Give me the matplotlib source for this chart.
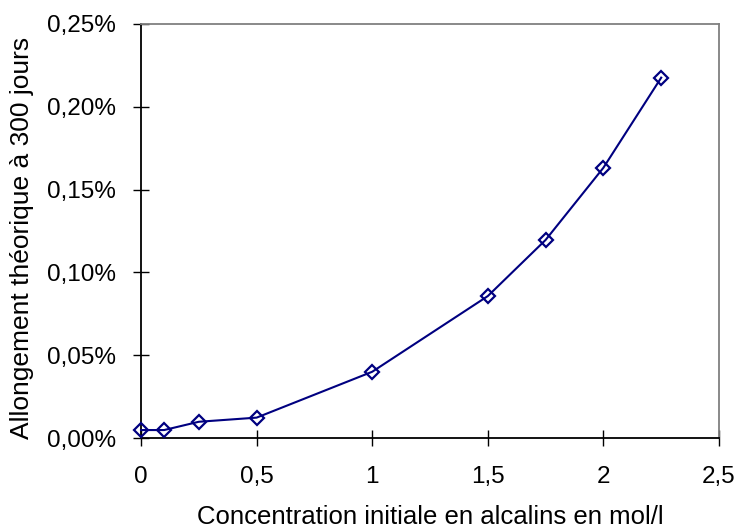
import matplotlib
matplotlib.use("Agg")
import matplotlib.pyplot as plt
from matplotlib.ticker import FuncFormatter, MultipleLocator

plt.rcParams['font.family'] = ['Liberation Sans', 'DejaVu Sans']

concentration = [0, 0.1, 0.25, 0.5, 1.0, 1.5, 1.75, 2.0, 2.25]
allongement_pct = [0.0048, 0.0048, 0.0098, 0.0123, 0.040, 0.0857, 0.1196, 0.1632, 0.2176]

x_label = "Concentration initiale en alcalins en mol/l"
y_label = "Allongement théorique à 300 jours"

W, H = 739, 531
fig = plt.figure(figsize=(W/100, H/100), dpi=100)
ax = fig.add_axes([141/W, 93/H, 578/W, 414/H])

ax.plot(concentration, allongement_pct, color='#000080', linewidth=1.5,
        marker='D', markersize=7, markerfacecolor='none', markeredgecolor='#000080',
        markeredgewidth=1.6, clip_on=False, zorder=3)

ax.set_xlim(0, 2.5)
ax.set_ylim(0, 0.25)
ax.xaxis.set_major_locator(MultipleLocator(0.5))
ax.yaxis.set_major_locator(MultipleLocator(0.05))

def xfmt(v, p):
    s = f"{v:g}"
    return s.replace('.', ',')

def yfmt(v, p):
    return f"{v:.2f}%".replace('.', ',')

ax.xaxis.set_major_formatter(FuncFormatter(xfmt))
ax.yaxis.set_major_formatter(FuncFormatter(yfmt))

ax.tick_params(axis='both', direction='inout', length=12, width=1, labelsize=17.5, color='black')
ax.tick_params(axis='x', pad=14)
ax.tick_params(axis='y', pad=12)

for side in ['left', 'bottom']:
    ax.spines[side].set_color('black')
    ax.spines[side].set_linewidth(1.3)
for side in ['top', 'right']:
    ax.spines[side].set_color('#808080')
    ax.spines[side].set_linewidth(1.3)

fig.text(430/W, 1 - 517/H, x_label, fontsize=18.5, ha='center', va='center')
fig.text(22/W, 1 - 238/H, y_label, fontsize=19, ha='center', va='center', rotation=90)

fig.savefig("out.png", dpi=100)
